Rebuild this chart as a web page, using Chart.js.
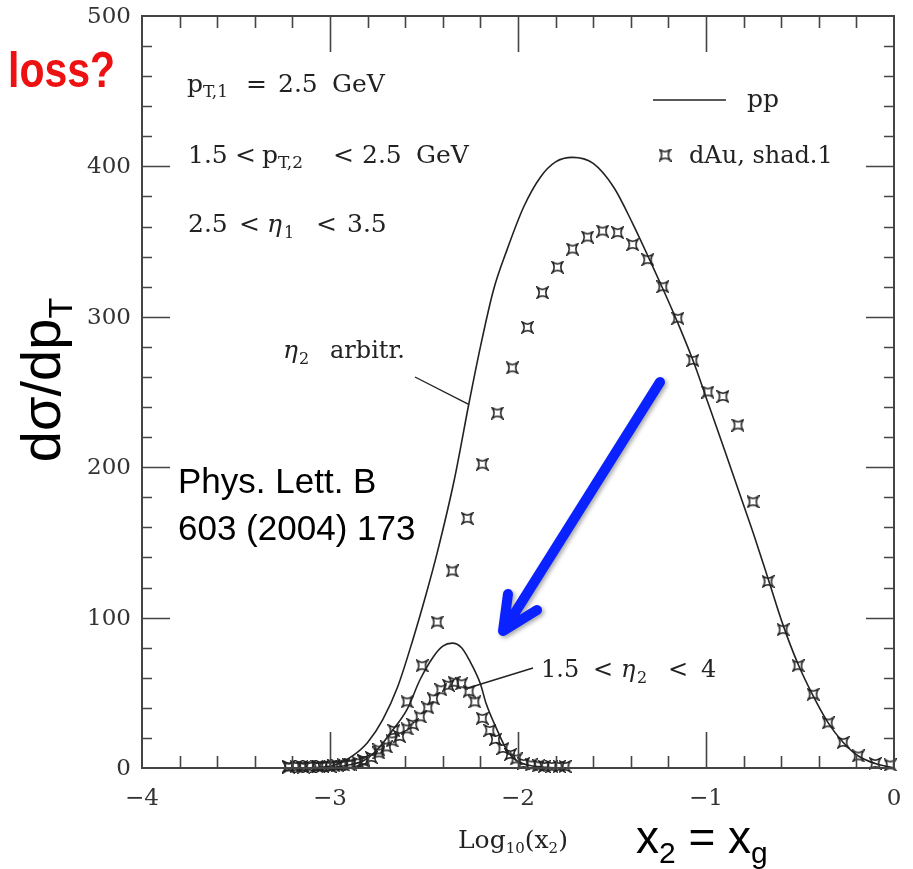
<!DOCTYPE html>
<html>
<head>
<meta charset="utf-8">
<script src="https://cdn.jsdelivr.net/npm/chart.js@4.4.1/dist/chart.umd.min.js"></script>
<style>
  html, body { margin: 0; padding: 0; background: #fff; }
  #wrap { width: 913px; height: 869px; }
</style>
</head>
<body>
<div id="wrap"><canvas id="chart" width="913" height="869"></canvas></div>
<script>
// ======================================================
// DATOS: dσ/dpT frente a log10(x2)
// ======================================================

// pp, η2 arbitrario (curva ancha)
const ppLogX = [-3.22, -3.05, -2.95, -2.88, -2.80, -2.72, -2.64, -2.56, -2.49, -2.43, -2.34, -2.26,
  -2.20, -2.13, -2.06, -1.97, -1.88, -1.80, -1.71, -1.60, -1.49, -1.39, -1.30, -1.22, -1.14,
  -1.06, -0.99, -0.90, -0.82, -0.74, -0.67, -0.59, -0.51, -0.43, -0.35, -0.27, -0.19, -0.10, 0];
const ppSigma = [0, 0.5, 3, 8, 17, 32, 54, 85, 115, 143, 191, 243,
  280, 318, 344, 373, 393, 403, 406, 402, 386, 362, 338, 316, 293,
  268, 243, 211, 182, 153, 126, 95, 69, 48, 30, 17, 8, 3, 0];

// pp, 1.5 < η2 < 4 (curva estrecha)
const ppNarrowLogX = [-3.22, -3.00, -2.90, -2.82, -2.75, -2.68, -2.59, -2.52, -2.45, -2.40, -2.35,
  -2.30, -2.26, -2.20, -2.17, -2.11, -2.06, -2.01, -1.95, -1.85, -1.75];
const ppNarrowSigma = [0, 0.3, 2, 5, 12, 23, 39, 59, 74, 81, 83,
  80, 72, 56, 43, 25, 12, 5, 2, 0.5, 0];

// dAu, shad.1, η2 arbitrario
const dAuLogX = [-3.22, -3.14, -3.06, -2.98, -2.90, -2.82, -2.74, -2.66, -2.59, -2.51, -2.43, -2.35,
  -2.27, -2.19, -2.11, -2.03, -1.95, -1.87, -1.79, -1.71, -1.63, -1.55, -1.47, -1.39, -1.31,
  -1.23, -1.15, -1.07, -0.99, -0.91, -0.83, -0.75, -0.67, -0.59, -0.51, -0.43, -0.35, -0.27,
  -0.19, -0.10, -0.02];
const dAuSigma = [0.5, 0.5, 1, 1.5, 2.5, 5, 12, 25, 44, 68, 97, 131,
  166, 202, 236, 266, 293, 316, 333, 345, 353, 357, 356, 348, 338,
  320, 299, 271, 250, 247, 228, 177, 124, 92, 68, 49, 30, 17,
  8, 3, 2];

// dAu, shad.1, 1.5 < η2 < 4
const dAuNarrowLogX = [-3.22, -3.18, -3.15, -3.11, -3.07, -3.04, -3.00, -2.96, -2.93, -2.89, -2.85,
  -2.82, -2.78, -2.74, -2.70, -2.67, -2.63, -2.59, -2.56, -2.52, -2.48, -2.45, -2.41, -2.37,
  -2.34, -2.30, -2.26, -2.23, -2.19, -2.15, -2.12, -2.08, -2.04, -2.01, -1.97, -1.93, -1.89,
  -1.86, -1.82, -1.78, -1.75];
const dAuNarrowSigma = [1, 1, 1, 1, 1, 1, 1, 1.5, 2, 2.5, 3.5,
  4.5, 7, 10, 14, 18, 21, 26, 29, 34, 40, 46, 52, 55,
  57, 56, 51, 44, 33, 25, 19, 13, 9, 6, 3, 2, 1.5,
  1, 1, 1, 1];

// ejes
const xTickLabels = [-4, -3, -2, -1, 0];
const yTickLabels = [0, 100, 200, 300, 400, 500];

// ======================================================
// UTILIDADES
// ======================================================

const INK = "#222";
const SERIF = '"DejaVu Serif", "Liberation Serif", serif';
const SANS = '"Liberation Sans", Arial, sans-serif';

function pairs(xs, ys) {
  return xs.map((x, i) => ({ x: x, y: ys[i] }));
}

// marcador: estrella de cuatro puntas con lados cóncavos
function makeStar(size, color) {
  const c = document.createElement("canvas");
  c.width = c.height = size;
  const g = c.getContext("2d");
  const m = size / 2;
  const r = size / 2 - 1.2;
  g.strokeStyle = color;
  g.lineWidth = 1.5;
  g.beginPath();
  g.moveTo(m - r, m - r);
  g.quadraticCurveTo(m, m - r * 0.25, m + r, m - r);
  g.quadraticCurveTo(m + r * 0.25, m, m + r, m + r);
  g.quadraticCurveTo(m, m + r * 0.25, m - r, m + r);
  g.quadraticCurveTo(m - r * 0.25, m, m - r, m - r);
  g.closePath();
  g.stroke();
  return c;
}

const star = makeStar(13, INK);

// texto con trozos colocados a mano: [texto, x, fuente, desplazamiento vertical]
function drawRuns(ctx, baseline, runs) {
  runs.forEach(([t, x, font, dy]) => {
    ctx.font = font;
    ctx.fillText(t, x, baseline + (dy || 0));
  });
}

// texto seguido: cada trozo empieza donde acaba el anterior
function drawSeq(ctx, x, baseline, parts) {
  let cx = x;
  parts.forEach(([t, font, dy]) => {
    ctx.font = font;
    ctx.fillText(t, cx, baseline + (dy || 0));
    cx += ctx.measureText(t).width;
  });
}

const F = "25px " + SERIF;         // texto normal
const FI = "italic 25px " + SERIF; // letras griegas
const FS = "17px " + SERIF;        // subíndices de pT
const FSb = "16px " + SERIF;       // subíndices de η

// ======================================================
// PLUGIN: marco, ticks internos, rótulos y anotaciones
// ======================================================

const decorPlugin = {
  id: "decor",
  beforeDraw(chart) {
    const ctx = chart.ctx;
    ctx.save();
    ctx.fillStyle = "#fff";
    ctx.fillRect(0, 0, chart.width, chart.height);
    ctx.restore();
  },
  afterDatasetsDraw(chart) {
    const ctx = chart.ctx;
    const a = chart.chartArea;
    const xs = chart.scales.x;
    const ys = chart.scales.y;

    ctx.save();
    ctx.strokeStyle = "#444";
    ctx.lineWidth = 2;
    ctx.strokeRect(a.left, a.top, a.right - a.left, a.bottom - a.top);

    // ticks del eje x (mayores cada 1, menores cada 0.2), abajo y arriba
    ctx.lineWidth = 1.6;
    ctx.beginPath();
    for (let k = 1; k < 20; k++) {
      const v = -4 + k * 0.2;
      const px = Math.round(xs.getPixelForValue(v)) + 0.5;
      const len = k % 5 === 0 ? 36 : 12;
      ctx.moveTo(px, a.bottom);
      ctx.lineTo(px, a.bottom - len);
      ctx.moveTo(px, a.top);
      ctx.lineTo(px, a.top + len);
    }
    // ticks del eje y (mayores cada 100, menores cada 20), izquierda y derecha
    for (let k = 1; k < 25; k++) {
      const v = k * 20;
      const py = Math.round(ys.getPixelForValue(v)) + 0.5;
      const len = k % 5 === 0 ? 28 : 10;
      ctx.moveTo(a.left, py);
      ctx.lineTo(a.left + len, py);
      ctx.moveTo(a.right, py);
      ctx.lineTo(a.right - len, py);
    }
    ctx.stroke();

    // rótulos de los ticks
    ctx.fillStyle = "#333";
    ctx.font = "23px " + SERIF;
    ctx.textAlign = "right";
    ctx.textBaseline = "middle";
    yTickLabels.forEach((v) => {
      ctx.fillText(String(v), a.left - 11, ys.getPixelForValue(v) + 1);
    });
    ctx.textAlign = "center";
    ctx.textBaseline = "top";
    xTickLabels.forEach((v) => {
      const t = v < 0 ? "\u2212" + Math.abs(v) : String(v);
      ctx.fillText(t, xs.getPixelForValue(v), a.bottom + 20);
    });

    // anotaciones en serif
    ctx.textAlign = "left";
    ctx.textBaseline = "alphabetic";
    ctx.fillStyle = INK;
    drawRuns(ctx, 92, [["p", 187, F], ["T,1", 203, FS, 5], ["=", 246, F], ["2.5", 278, F], ["GeV", 332, F]]);
    drawRuns(ctx, 163, [["1.5", 188, F], ["<", 235, F], ["p", 262, F], ["T,2", 278, FS, 5], ["<", 333, F], ["2.5", 362, F], ["GeV", 416, F]]);
    drawRuns(ctx, 232, [["2.5", 188, F], ["<", 239, F], ["\u03b7", 267, FI], ["1", 284, FSb, 6], ["<", 316, F], ["3.5", 347, F]]);
    drawRuns(ctx, 358, [["\u03b7", 283, FI], ["2", 299, FSb, 6], ["arbitr.", 330, "24px " + SERIF]]);
    drawRuns(ctx, 677, [["1.5", 541, "24px " + SERIF], ["<", 593, "24px " + SERIF], ["\u03b7", 621, "italic 24px " + SERIF],
      ["2", 637, FSb, 6], ["<", 668, "24px " + SERIF], ["4", 701, "24px " + SERIF]]);

    // líneas indicadoras hasta las curvas pp
    ctx.strokeStyle = INK;
    ctx.lineWidth = 1.4;
    ctx.beginPath();
    ctx.moveTo(415, 377);
    ctx.lineTo(xs.getPixelForValue(-2.265), ys.getPixelForValue(242));
    ctx.moveTo(533, 668);
    ctx.lineTo(xs.getPixelForValue(-2.27), ys.getPixelForValue(53));
    ctx.stroke();

    // leyenda
    ctx.lineWidth = 1.6;
    ctx.beginPath();
    ctx.moveTo(653, 100);
    ctx.lineTo(726, 100);
    ctx.stroke();
    drawRuns(ctx, 107, [["pp", 747, F]]);
    ctx.drawImage(star, 665 - star.width / 2, 155 - star.height / 2);
    drawRuns(ctx, 163, [["dAu, shad.1", 689, "24px " + SERIF]]);

    // título del eje x
    drawSeq(ctx, 458, 848, [["Log", "25px " + SERIF], ["10", "15px " + SERIF, 5], ["(x", "25px " + SERIF],
      ["2", "15px " + SERIF, 5], [")", "25px " + SERIF]]);

    ctx.restore();
  },
  afterDraw(chart) {
    const ctx = chart.ctx;
    ctx.save();

    // título del eje y, girado
    ctx.fillStyle = "#000";
    ctx.translate(60, 380);
    ctx.rotate(-Math.PI / 2);
    ctx.font = "56px " + SANS;
    const w1 = ctx.measureText("d\u03c3/dp").width;
    ctx.font = "34px " + SANS;
    const w2 = ctx.measureText("T").width;
    const start = -(w1 + w2) / 2;
    ctx.font = "56px " + SANS;
    ctx.fillText("d\u03c3/dp", start, 0);
    ctx.font = "34px " + SANS;
    ctx.fillText("T", start + w1, 12);
    ctx.restore();

    ctx.save();
    // "loss?" en rojo
    ctx.fillStyle = "#ee1111";
    ctx.translate(8, 87);
    ctx.scale(0.82, 1);
    ctx.font = "bold 50px " + SANS;
    ctx.fillText("loss?", 0, 0);
    ctx.restore();

    ctx.save();
    ctx.fillStyle = "#000";
    ctx.font = "35px " + SANS;
    ctx.fillText("Phys. Lett. B", 178, 493);
    ctx.fillText("603 (2004) 173", 178, 540);
    drawSeq(ctx, 636, 853, [["x", "46px " + SANS], ["2", "30px " + SANS, 10], [" = x", "46px " + SANS], ["g", "30px " + SANS, 10]]);

    // flecha azul
    ctx.strokeStyle = "#0a22ff";
    ctx.lineWidth = 10;
    ctx.lineCap = "round";
    ctx.lineJoin = "round";
    ctx.shadowColor = "rgba(0,0,0,0.35)";
    ctx.shadowBlur = 4;
    ctx.shadowOffsetX = 2;
    ctx.shadowOffsetY = 2;
    ctx.beginPath();
    ctx.moveTo(660, 382);
    ctx.lineTo(506, 627);
    ctx.moveTo(508, 594);
    ctx.lineTo(503, 631);
    ctx.lineTo(537, 610);
    ctx.stroke();
    ctx.restore();
  }
};

// ======================================================
// GRÁFICO
// ======================================================

const lineStyle = {
  showLine: true,
  borderColor: INK,
  borderWidth: 1.6,
  pointRadius: 0,
  cubicInterpolationMode: "monotone",
  fill: false
};

const markerStyle = {
  showLine: false,
  pointStyle: star,
  pointRadius: 6,
  borderColor: INK,
  clip: 10
};

new Chart(document.getElementById("chart"), {
  type: "scatter",
  data: {
    datasets: [
      { label: "pp", data: pairs(ppLogX, ppSigma), ...lineStyle },
      { label: "pp, 1.5 < \u03b72 < 4", data: pairs(ppNarrowLogX, ppNarrowSigma), ...lineStyle },
      { label: "dAu, shad.1", data: pairs(dAuLogX, dAuSigma), ...markerStyle },
      { label: "dAu, shad.1, 1.5 < \u03b72 < 4", data: pairs(dAuNarrowLogX, dAuNarrowSigma), ...markerStyle }
    ]
  },
  options: {
    responsive: false,
    animation: false,
    devicePixelRatio: 1,
    layout: { padding: { left: 142, top: 16, right: 19, bottom: 101 } },
    plugins: {
      legend: { display: false },
      tooltip: { enabled: false }
    },
    scales: {
      x: { type: "linear", min: -4, max: 0, display: false },
      y: { type: "linear", min: 0, max: 500, display: false }
    }
  },
  plugins: [decorPlugin]
});
</script>
</body>
</html>
